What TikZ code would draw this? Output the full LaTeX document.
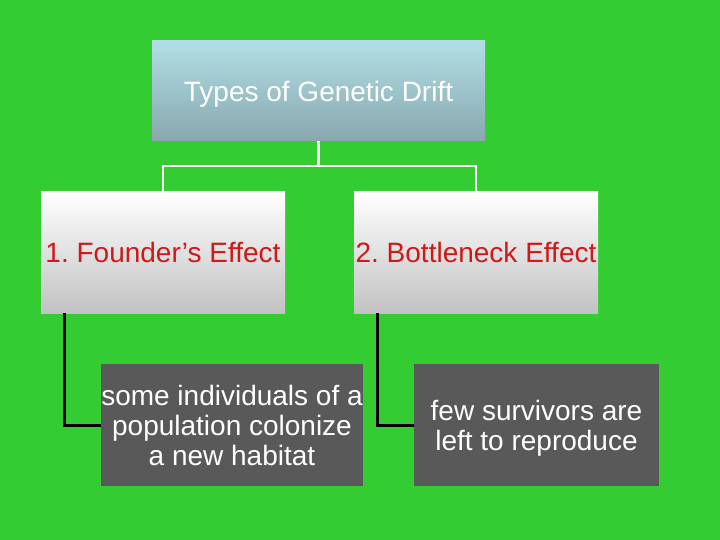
\documentclass[tikz,border=0pt]{standalone}
\usepackage{fontspec}
\setmainfont{Liberation Sans}
\frenchspacing
\definecolor{bggreen}{HTML}{33CC33}
\definecolor{toptop}{HTML}{AFDFE4}
\definecolor{topbot}{HTML}{8AA7AF}
\definecolor{midbot}{HTML}{C2C2C2}
\definecolor{darkbox}{HTML}{595959}
\definecolor{redtext}{HTML}{D01818}
\newcommand{\lowr}[1]{\raisebox{-3pt}[\height][\depth]{#1}}
\begin{document}
\begin{tikzpicture}[x=1pt,y=-1pt,
  every node/.style={font=\fontsize{28}{30}\selectfont, inner sep=0pt, align=center},
  topbox/.style={rectangle, minimum width=333pt, minimum height=100pt, top color=toptop, bottom color=topbot, text=white},
  midbox/.style={rectangle, minimum width=244pt, minimum height=121pt, top color=white, bottom color=midbot, text=redtext},
  leafbox/.style={rectangle, minimum height=122pt, fill=darkbox, text=white},
  wline/.style={draw=white, line width=2.2pt},
  bline/.style={draw=black, line width=3pt}]
\fill[bggreen] (0,0) rectangle (720,540);
\useasboundingbox (0,0) rectangle (720,540);
\node[topbox] (top) at (318.5,91) {\lowr{Types of Genetic Drift}};
\node[midbox] (b1) at (163,252.5) {1. Founder’s Effect};
\node[midbox] (b2) at (476,252.5) {2. Bottleneck Effect};
\node[leafbox, minimum width=262pt] (b3) at (232,425) {some individuals of a\\population colonize\\a new habitat};
\node[leafbox, minimum width=245pt] (b4) at (536.5,425) {\lowr{few survivors are}\\\lowr{left to reproduce}};
\draw[wline] (top.south) -- ++(0,24.5) coordinate (j);
\draw[wline] (j) -| (b1.north);
\draw[wline] (j) -| (b2.north);
\draw[bline] ([xshift=24pt]b1.south west) |- (b3.west);
\draw[bline] ([xshift=24pt]b2.south west) |- (b4.west);
\end{tikzpicture}
\end{document}
